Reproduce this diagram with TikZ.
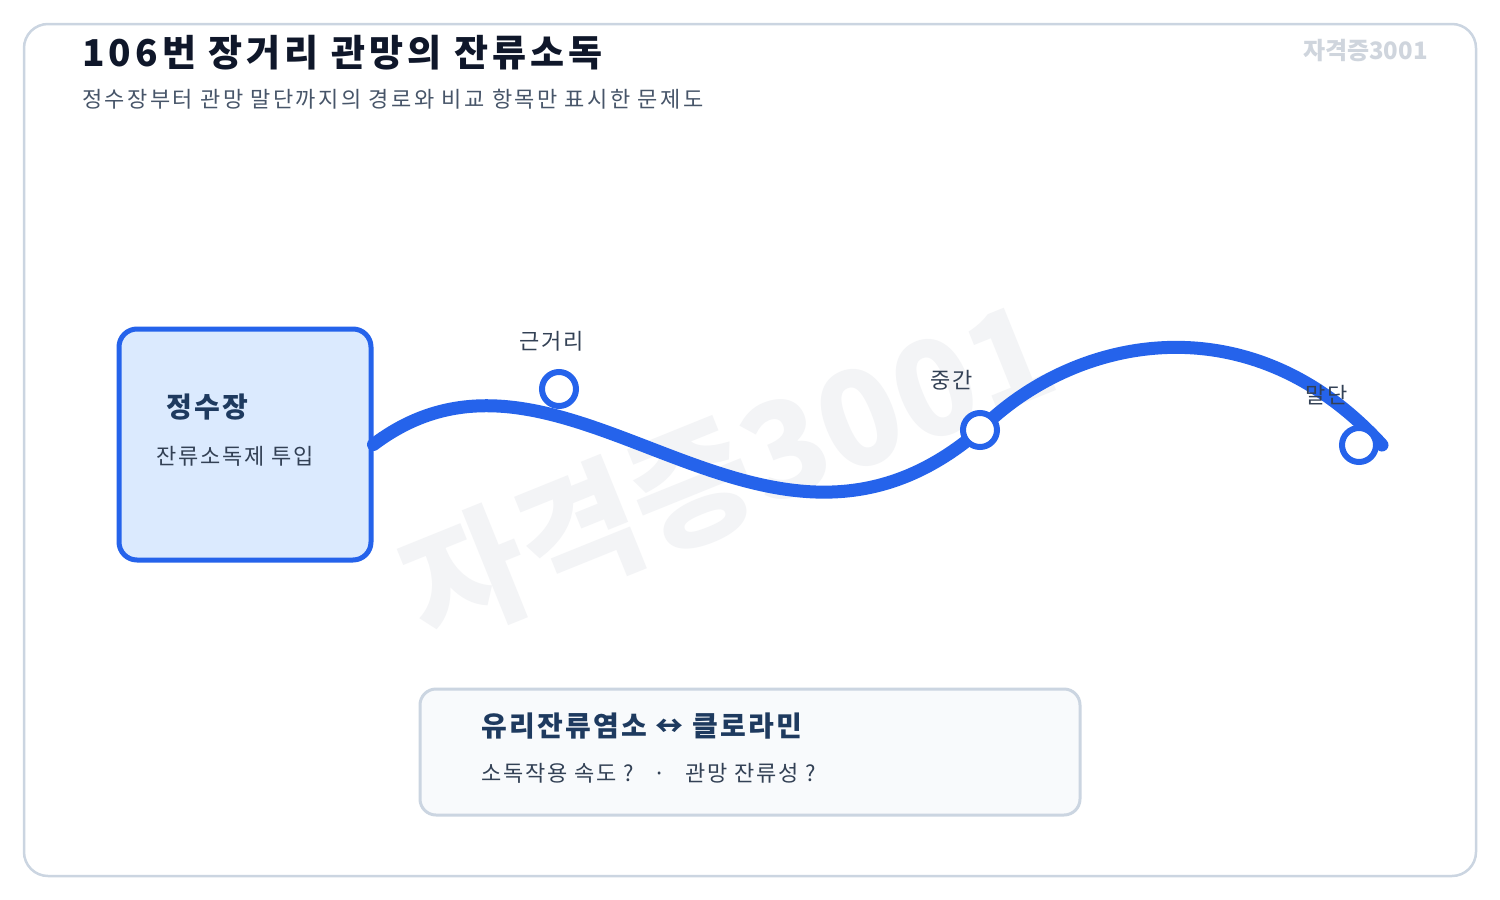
\documentclass[tikz,border=0pt]{standalone}
\usepackage{fontspec}
\setmainfont{Noto Sans CJK KR}
\newfontfamily\krsp{Noto Sans CJK KR}[LetterSpace=8]
\newfontfamily\krwide{Noto Sans CJK KR}[LetterSpace=11]
\definecolor{frameC}{HTML}{CBD5E1}
\definecolor{routeC}{HTML}{2563EB}
\definecolor{boxFill}{HTML}{DBEAFE}
\definecolor{titleC}{HTML}{0F172A}
\definecolor{navyC}{HTML}{1E3A5F}
\definecolor{bodyC}{HTML}{334155}
\definecolor{subC}{HTML}{475569}
\definecolor{wmC}{HTML}{F3F4F6}
\definecolor{tagC}{HTML}{CFD5DD}
\definecolor{noteFill}{HTML}{F8FAFC}
\tikzset{
  txt/.style={inner sep=0pt, anchor=west},
  stopmark/.style={circle, draw=routeC, fill=white, line width=6pt, minimum size=34pt, inner sep=0pt},
  lbl/.style={inner sep=0pt, text=bodyC, font=\krsp\fontsize{22}{26}\selectfont},
}
\begin{document}
\begin{tikzpicture}[x=1pt,y=-1pt]
\useasboundingbox (0,0) rectangle (1500,900);
% frame
\draw[frameC, line width=2.5pt, rounded corners=24pt, fill=white] (24,24) rectangle (1476,876);
% watermark
\node[inner sep=0pt, rotate=22, text=wmC, font=\fontsize{132}{132}\selectfont\bfseries] (wm) at (728,470) {자격증3001};
% header
\node[txt, text=titleC, font=\krwide\fontsize{37}{44}\selectfont\bfseries] (title) at (82,53) {106번 장거리 관망의 잔류소독};
\node[txt, text=subC, font=\krwide\fontsize{22}{26}\selectfont] (sub) at (82,99) {정수장부터 관망 말단까지의 경로와 비교 항목만 표시한 문제도};
\node[inner sep=0pt, anchor=east, text=tagC, font=\fontsize{24}{28}\selectfont\bfseries] (tag) at (1428,51) {자격증3001};
% route
\coordinate (mid) at (980,430);
\coordinate (endp) at (1382,445);
\node[draw=routeC, fill=boxFill, line width=5pt, rounded corners=18pt, minimum width=252pt, minimum height=231pt, inner sep=0pt] (src) at (245,444.5) {};
\draw[routeC, line width=13pt, line cap=round] (src.east) .. controls (565,300) and (760,620) .. (mid) .. controls (1075,335) and (1250,300) .. (endp);
\node[txt, text=navyC, font=\krsp\fontsize{28}{32}\selectfont\bfseries] (srcT) at (166,407) {정수장};
\node[txt, text=bodyC, font=\krsp\fontsize{22}{26}\selectfont] (srcS) at (156,456) {잔류소독제 투입};
\node[stopmark] (near) at (559,389) {};
\node[stopmark] (midc) at (mid) {};
\node[stopmark] (far) at (1359,445) {};
\node[lbl] (nearL) at (552,341) {근거리};
\node[lbl] (midL) at (952,380) {중간};
\node[lbl] (farL) at (1327,395) {말단};
% comparison box
\node[draw=frameC, fill=noteFill, line width=3pt, rounded corners=16pt, minimum width=660pt, minimum height=126pt, inner sep=0pt] (cmp) at (750,752) {};
\node[txt, text=navyC, font=\krsp\fontsize{28}{32}\selectfont\bfseries] (cmpT) at (481,726) {유리잔류염소 ↔ 클로라민};
\node[txt, text=bodyC, font=\krsp\fontsize{22}{26}\selectfont] (cmpS) at (481,773) {소독작용 속도 ?\hspace{20pt}·\hspace{20pt}관망 잔류성 ?};
\end{tikzpicture}
\end{document}
